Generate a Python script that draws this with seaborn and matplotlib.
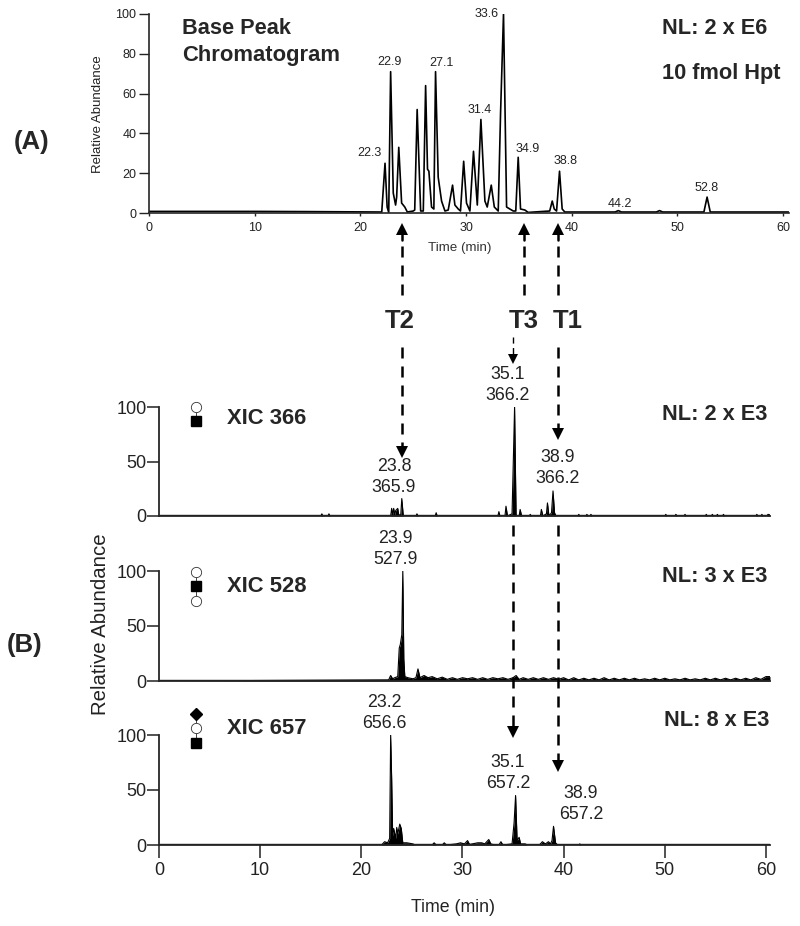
import matplotlib
matplotlib.use("Agg")
import matplotlib.pyplot as plt
import seaborn as sns

sns.set_style("ticks")
plt.rcParams['font.family'] = ['Liberation Sans', 'DejaVu Sans']

W, H = 800, 926

# Base peak chromatogram
top_time = [0, 5, 10, 15, 22.02, 22.33, 22.53, 22.68, 22.86, 23.11, 23.33, 23.43, 23.63, 23.9, 24.2, 24.44,
            25.0, 25.14, 25.37, 25.7, 25.95, 26.17, 26.35, 26.48, 26.73, 26.95, 27.11, 27.36, 27.68, 28.0,
            28.31, 28.72, 28.94, 29.26, 29.47, 29.77, 30.04, 30.36, 30.7, 31.06, 31.4, 31.78, 32.0, 32.38,
            32.67, 33.04, 33.26, 33.54, 33.83, 34.14, 34.46, 34.7, 34.93, 35.15, 35.56, 35.87, 37.91, 38.15,
            38.34, 38.56, 38.84, 39.09, 39.34, 44.1, 44.4, 44.7, 48.0, 48.3, 48.6, 52.5, 52.8, 53.1, 60.5]
top_abund = [0.8, 0.8, 0.8, 0.7, 0.5, 25, 3, 0.3, 71, 10, 4, 8, 33, 5, 3, 0.5,
             1, 1.5, 52, 1, 1, 64, 22, 21, 3, 2, 71, 18, 6, 1,
             1.5, 14, 4, 2, 1, 26, 5, 1, 31, 4, 47, 6, 3, 14,
             3, 1, 50, 100, 3, 2, 1, 1, 28, 2, 1.5, 0.3, 1, 6,
             2, 1, 21, 2, 0.5, 0.5, 1.2, 0.5, 0.5, 1.2, 0.5, 0.5, 8, 0.5, 0.5]
top_labels = ["22.3", "22.9", "27.1", "31.4", "33.6", "34.9", "38.8", "44.2", "52.8"]
top_label_px = [(369, 153), (390, 62), (441, 63), (480, 110), (487, 14), (528, 149), (566, 161), (620, 204), (707, 188)]

# XIC 366
t366 = [0, 16.0, 16.1, 16.2, 16.7, 16.8, 16.9, 22.9, 23.0, 23.1, 23.2, 23.3, 23.4, 23.5, 23.6, 23.7, 23.9, 24.0, 24.15,
        25.4, 25.5, 25.6, 27.3, 27.4, 27.5, 33.5, 33.6, 33.7, 34.2, 34.3, 34.45, 34.9, 35.05, 35.15, 35.3, 35.6, 35.7, 35.85,
        36.6, 36.7, 36.8, 37.7, 37.8, 37.95, 38.3, 38.4, 38.55, 38.8, 38.95, 39.1, 39.25,
        41.4, 41.5, 41.6, 42.2, 42.3, 42.4, 42.6, 42.7, 42.8, 50.0, 50.1, 50.2, 51.0, 51.1, 51.2, 51.9, 52.0, 52.1,
        54.0, 54.1, 54.2, 54.6, 54.7, 54.8, 55.1, 55.2, 55.3, 55.7, 55.8, 55.9, 59.0, 59.1, 59.2, 59.5, 59.6, 59.7,
        60.1, 60.2, 60.4]
a366 = [0, 0, 2, 0, 0, 2, 0, 0, 7, 1, 7, 1, 5, 6, 7, 1, 1, 16, 0,
        0, 2, 0, 0, 3, 0, 0, 4, 0, 0, 9, 0, 2, 60, 100, 0, 0, 6, 0,
        0, 1.5, 0, 0, 6, 0, 2, 12, 0, 3, 23, 3, 0,
        0, 1.5, 0, 0, 1.5, 0, 0, 1.5, 0, 0, 1.5, 0, 0, 1.5, 0, 0, 1.5, 0,
        0, 1.5, 0, 0, 1.5, 0, 0, 1.5, 0, 0, 1.5, 0, 0, 1.5, 0, 0, 1.5, 0,
        0, 1.5, 1]

# XIC 528
t528 = [0, 22.7, 22.9, 23.1, 23.3, 23.6, 23.75, 23.85, 24.0, 24.1, 24.2, 24.3, 24.6, 25.1, 25.4, 25.6, 25.8, 26.2, 26.6,
        27.0, 27.5, 28.0, 28.5, 29.0, 29.5, 30.0, 30.5, 31.0, 31.5, 32.0, 32.5, 33.0, 33.5, 34.0, 34.5, 35.0, 35.3, 35.6,
        36.0, 36.5, 37.0, 37.5, 38.0, 38.5, 39.0, 39.5, 40.0, 40.5, 41.0, 41.5, 42.0, 42.5, 43.0, 43.5, 44.0, 44.5,
        45.0, 45.5, 46.0, 46.5, 47.0, 47.5, 48.0, 48.5, 49.0, 49.5, 50.0, 50.5, 51.0, 51.5, 52.0, 52.5, 53.0, 53.5,
        54.0, 54.5, 55.0, 55.5, 56.0, 56.5, 57.0, 57.5, 58.0, 58.5, 59.0, 59.5, 60.0, 60.4]
a528 = [0, 1, 5, 2, 3, 4, 30, 33, 42, 100, 20, 4, 3, 2, 3, 11, 3, 5, 3,
        4, 2, 3.5, 1.5, 3, 1.5, 3, 2, 3, 1.5, 3, 1.5, 3, 2, 3, 1.5, 3, 5, 1.5,
        3, 1.5, 3, 1.5, 3, 1.5, 3, 1.5, 3, 1, 3, 1, 2.5, 1, 2.5, 1, 3, 1,
        2.5, 1, 2.5, 1, 2.5, 1, 2, 1, 2.5, 1, 2.5, 1, 2, 1, 2.5, 1, 2, 1,
        2.5, 1, 2.5, 1, 2.5, 1, 2.5, 1, 2.5, 1, 3, 1.5, 4, 4]

# XIC 657
t657 = [0, 22.0, 22.3, 22.6, 22.8, 22.9, 23.0, 23.1, 23.2, 23.4, 23.5, 23.6, 23.8, 23.95, 24.1, 24.5, 25.1, 25.3,
        27.0, 27.2, 27.4, 28.0, 28.2, 28.4, 29.4, 29.8, 30.2, 30.5, 30.7, 31.5, 31.9, 32.2, 32.6, 32.8, 33.0, 33.6, 33.8, 34.0,
        34.9, 35.1, 35.25, 35.4, 35.6, 35.75, 36.2, 36.4, 37.6, 37.9, 38.2, 38.5, 38.7, 38.85, 39.0, 39.2, 39.4,
        41.5, 41.6, 41.7, 44, 60.4]
a657 = [0, 0, 3, 2, 6, 100, 60, 8, 15, 6, 16, 10, 19, 15, 2, 2, 1, 0,
        0, 2, 0, 0, 2, 0, 1, 2, 1, 4, 0.5, 2, 2, 1, 5, 1, 0.5, 0, 3, 0,
        1, 20, 45, 4, 7, 1, 1, 0, 0, 3, 1, 3, 1, 4, 17, 2, 0,
        0, 1, 0, 0, 0]

xic_labels = ["XIC 366", "XIC 528", "XIC 657"]
nl_labels = ["NL: 2 x E3", "NL: 3 x E3", "NL: 8 x E3"]


def px_axes(left, right, top, bottom):
    return fig.add_axes([left / W, 1 - bottom / H, (right - left) / W, (bottom - top) / H])


fig = plt.figure(figsize=(W / 100, H / 100), dpi=100)

# Top panel
ax = px_axes(149, 789, 14, 213)
sns.lineplot(x=top_time, y=top_abund, ax=ax, color='black', lw=1.2, estimator=None, sort=False)
ax.set_xlim(0, 60.55)
ax.set_ylim(0, 100)
ax.set_xticks(range(0, 61, 10))
ax.set_yticks(range(0, 101, 20))
ax.tick_params(axis='x', length=2.5, width=1, pad=4, labelsize=9, colors='#222222')
ax.tick_params(axis='y', length=7.5, width=1, pad=1.5, labelsize=9, colors='#222222')
ax.set_xlabel("")
ax.set_ylabel("")
sns.despine(ax=ax)
for s in ['left', 'bottom']:
    ax.spines[s].set_linewidth(1.2)

# Bottom panels
panels = [(t366, a366, 407, 516), (t528, a528, 571, 681), (t657, a657, 735, 845)]
for i, (t, a, y_top, y_bot) in enumerate(panels):
    ax = px_axes(159, 770, y_top, y_bot)
    sns.lineplot(x=t, y=a, ax=ax, color='black', lw=0.8, estimator=None, sort=False)
    ax.fill_between(t, 0, a, color='black', lw=0)
    ax.axhline(0, color='black', lw=1.7)
    ax.set_xlim(0, 60.4)
    ax.set_ylim(0, 100)
    ax.set_yticks([0, 50, 100])
    ax.tick_params(axis='y', length=8.5, width=1.1, pad=0.5, labelsize=13, colors='#222222')
    ax.set_xlabel("")
    ax.set_ylabel("")
    sns.despine(ax=ax)
    ax.spines['left'].set_linewidth(1.3)
    ax.spines['bottom'].set_linewidth(1.3)
    if i == 2:
        ax.set_xticks(range(0, 61, 10))
        ax.tick_params(axis='x', length=9.5, width=1.1, pad=3, labelsize=13, colors='#222222')
    else:
        ax.set_xticks([])

# Overlay in pixel coordinates for annotations
ov = fig.add_axes([0, 0, 1, 1], facecolor='none')
ov.set_xlim(0, W)
ov.set_ylim(H, 0)
ov.axis('off')

for lab, (x, y) in zip(top_labels, top_label_px):
    ov.text(x, y, lab, fontsize=9, ha='center', va='center', color='#222222')

ov.text(98, 114, "Relative Abundance", rotation=90, fontsize=9.5, ha='center', va='center', color='#222222')
ov.text(460, 248, "Time (min)", fontsize=9.6, ha='center', va='center', color='#333333')
ov.text(182, 28, "Base Peak", fontsize=15.7, fontweight='bold', va='center')
ov.text(182, 55, "Chromatogram", fontsize=15.8, fontweight='bold', va='center')
ov.text(662, 29, "NL: 2 x E6", fontsize=15.7, fontweight='bold', va='center')
ov.text(662, 74, "10 fmol Hpt", fontsize=15.7, fontweight='bold', va='center')
ov.text(14, 142, "(A)", fontsize=18.5, fontweight='bold', va='center')
ov.text(7, 645, "(B)", fontsize=18.5, fontweight='bold', va='center')

ov.text(400, 321, "T2", fontsize=18.5, fontweight='bold', ha='center', va='center')
ov.text(524, 321, "T3", fontsize=18.5, fontweight='bold', ha='center', va='center')
ov.text(568, 321, "T1", fontsize=18.5, fontweight='bold', ha='center', va='center')

for lab, y in zip(xic_labels, [418, 586, 729]):
    ov.text(227, y, lab, fontsize=15.8, fontweight='bold', va='center')
for lab, x, y in zip(nl_labels, [662, 662, 664], [415, 577, 720]):
    ov.text(x, y, lab, fontsize=15.7, fontweight='bold', va='center')

# Peak labels of the XIC panels
xic_peaks = [("35.1\n366.2", 508, 385), ("23.8\n365.9", 394, 477), ("38.9\n366.2", 558, 468),
             ("23.9\n527.9", 395, 549), ("23.2\n656.6", 384, 713), ("35.1\n657.2", 508, 773),
             ("38.9\n657.2", 581, 804)]
for lab, x, y in xic_peaks:
    ov.text(x, y, lab, fontsize=12.8, ha='center', va='center', color='#222222', linespacing=1.35)

ov.text(100, 624, "Relative Abundance", rotation=90, fontsize=14.7, ha='center', va='center', color='#222222')
ov.text(453, 907, "Time (min)", fontsize=12.8, ha='center', va='center', color='#222222')


def dash(x, y0, y1, lw=1.8):
    ov.plot([x, x], [y0, y1], color='black', lw=lw, ls=(0, (4.4, 3.2)), dash_capstyle='butt')


def head(x, y, up, size=12):
    d = -1 if up else 1
    ov.fill([x - size / 2, x + size / 2, x], [y - d * size, y - d * size, y], color='black', lw=0)


# Double arrows from the top panel
dash(402, 246, 300)
ov.plot([402, 402], [234, 240], color='black', lw=1.8)
head(402, 223, True)
dash(524, 246, 300)
ov.plot([524, 524], [234, 240], color='black', lw=1.8)
head(524, 223, True)
dash(558, 246, 300)
ov.plot([558, 558], [234, 240], color='black', lw=1.8)
head(558, 223, True)
dash(402, 347, 446)
head(402, 458, False)
dash(513, 337, 354, lw=1)
head(513, 364, False, size=10)
dash(558, 347, 429)
head(558, 440, False)
dash(513, 525, 727)
head(513, 738, False)
dash(558, 525, 761)
head(558, 772, False)


# Glycan symbols
def glycan(x, ys, kinds):
    ov.plot([x] * len(ys), ys, color='#444444', lw=0.7, zorder=1)
    for y, k in zip(ys, kinds):
        if k == 'o':
            ov.plot(x, y, 'o', ms=7.4, mfc='white', mec='#333333', mew=0.6, zorder=2)
        elif k == 's':
            ov.plot(x, y, 's', ms=7.7, color='black', zorder=2)
        else:
            ov.plot(x, y, 'D', ms=6.5, color='black', zorder=2)


glycan(196, [407, 421], ['o', 's'])
glycan(196, [572, 586, 601], ['o', 's', 'o'])
glycan(196, [714, 728, 743], ['D', 'o', 's'])

fig.savefig("out.png", dpi=100)
